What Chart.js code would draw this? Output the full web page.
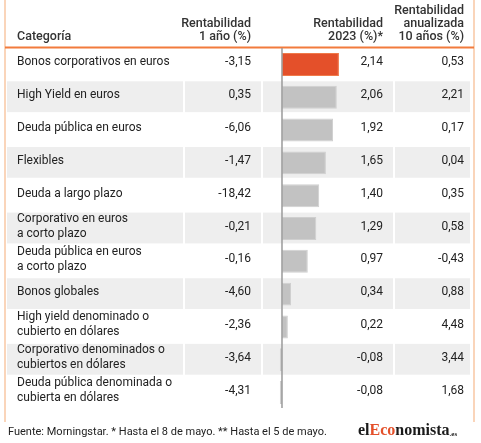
<!DOCTYPE html>
<html>
<head>
<meta charset="utf-8">
<script src="https://cdn.jsdelivr.net/npm/chart.js@4"></script>
<style>
  body { margin: 0; background: #fff; }
  #wrap { width: 481px; height: 443px; }
</style>
</head>
<body>
<div id="wrap"><canvas id="myChart" width="481" height="443"></canvas></div>
<script>
let categorias = [
  "Bonos corporativos en euros",
  "High Yield en euros",
  "Deuda pública en euros",
  "Flexibles",
  "Deuda a largo plazo",
  "Corporativo en euros|a corto plazo",
  "Deuda pública en euros|a corto plazo",
  "Bonos globales",
  "High yield denominado o|cubierto en dólares",
  "Corporativo denominados o|cubiertos en dólares",
  "Deuda pública denominada o|cubierta en dólares",
];
let rent1 = ["-3,15", "0,35", "-6,06", "-1,47", "-18,42", "-0,21", "-0,16", "-4,60", "-2,36", "-3,64", "-4,31"];
let rent2023 = [2.14, 2.06, 1.92, 1.65, 1.40, 1.29, 0.97, 0.34, 0.22, -0.08, -0.08];
let rent10 = ["0,53", "2,21", "0,17", "0,04", "0,35", "0,58", "-0,43", "0,88", "4,48", "3,44", "1,68"];
let cabeceras = [
  { text: ["Categoría"], x: 17, align: "left" },
  { text: ["Rentabilidad", "1 año (%)"], x: 251, align: "right" },
  { text: ["Rentabilidad", "2023 (%)*"], x: 383, align: "right" },
  { text: ["Rentabilidad", "anualizada", "10 años (%)"], x: 464, align: "right" },
];
let fuente = "Fuente: Morningstar. * Hasta el 8 de mayo. ** Hasta el 5 de mayo.";

let naranja = "#e4502a";
let gris = "#c2c2c2";
let franja = "#eeeeee";

function fmt(v) {
  return v.toFixed(2).replace(".", ",");
}

let tablaPlugin = {
  id: "tabla",
  beforeDatasetsDraw(chart) {
    let ctx = chart.ctx;
    let area = chart.chartArea;
    let y = chart.scales.y;
    let rowH = (area.bottom - area.top) / categorias.length;
    let cols = [[7, 183], [185, 261], [263, 393], [395, 470]];
    ctx.save();
    // franjas alternas
    categorias.forEach((c, i) => {
      if (i % 2 == 1) {
        let top = y.getPixelForValue(i) - rowH / 2;
        ctx.fillStyle = franja;
        cols.forEach((col) => {
          ctx.fillRect(col[0], top + 0.5, col[1] - col[0], rowH - 2);
        });
      }
    });
    // bordes naranjas
    ctx.strokeStyle = "#f9c8a4";
    ctx.lineWidth = 1.5;
    ctx.beginPath();
    ctx.moveTo(5, 0); ctx.lineTo(5, 422);
    ctx.moveTo(474, 0); ctx.lineTo(474, 422);
    ctx.stroke();
    ctx.strokeStyle = "#f27b3c";
    ctx.lineWidth = 2;
    ctx.beginPath();
    ctx.moveTo(5, 47.5); ctx.lineTo(474, 47.5);
    ctx.stroke();
    // cabeceras
    ctx.fillStyle = "#333";
    ctx.font = "500 12.5px Roboto";
    ctx.textBaseline = "middle";
    cabeceras.forEach((h) => {
      ctx.textAlign = h.align;
      let n = h.text.length;
      h.text.forEach((t, k) => {
        ctx.fillText(t, h.x, 37 - (n - 1 - k) * 13);
      });
    });
    // filas
    ctx.fillStyle = "#222";
    ctx.font = "12px Roboto";
    categorias.forEach((c, i) => {
      let cy = y.getPixelForValue(i) - 2;
      let lines = c.split("|");
      ctx.textAlign = "left";
      lines.forEach((t, k) => {
        ctx.fillText(t, 17, cy + (k - (lines.length - 1) / 2) * 15);
      });
      ctx.textAlign = "right";
      ctx.fillText(rent1[i], 251, cy);
      ctx.fillText(fmt(rent2023[i]), 383, cy);
      ctx.fillText(rent10[i], 464, cy);
    });
    // pie
    ctx.textAlign = "left";
    ctx.font = "11px Roboto";
    ctx.fillStyle = "#222";
    ctx.fillText(fuente, 8, 432);
    // logo
    let x = 358;
    let partes = [["el", "#1a1a1a"], ["Eco", naranja], ["nomista", "#1a1a1a"]];
    ctx.font = "bold 16px 'Liberation Serif'";
    partes.forEach((p) => {
      ctx.fillStyle = p[1];
      ctx.fillText(p[0], x, 431);
      x += ctx.measureText(p[0]).width;
    });
    ctx.fillStyle = "#1a1a1a";
    ctx.font = "bold 7px 'Liberation Serif'";
    ctx.fillText(".es", x, 434);
    ctx.restore();
  },
  afterDatasetsDraw(chart) {
    let ctx = chart.ctx;
    let area = chart.chartArea;
    let x0 = chart.scales.x.getPixelForValue(0);
    ctx.save();
    ctx.strokeStyle = "#9a9a9a";
    ctx.lineWidth = 1.5;
    ctx.beginPath();
    ctx.moveTo(x0, area.top);
    ctx.lineTo(x0, area.bottom - 1);
    ctx.stroke();
    ctx.restore();
  },
};

let myChart = document.getElementById("myChart").getContext("2d");
let tablaChart = new Chart(myChart, {
  type: "bar",
  data: {
    labels: categorias,
    datasets: [
      {
        label: "Rentabilidad 2023 (%)",
        data: rent2023,
        backgroundColor: rent2023.map((v, i) => (i == 0 ? naranja : gris)),
        borderColor: rent2023.map((v, i) => (i == 0 ? "#f07a4a" : "#cfcfcf")),
        borderWidth: 1,
        borderSkipped: false,
        barPercentage: 0.7,
        categoryPercentage: 1,
      },
    ],
  },
  options: {
    indexAxis: "y",
    responsive: false,
    animation: false,
    devicePixelRatio: 1,
    layout: { padding: { left: 263, right: 88, top: 48, bottom: 34 } },
    plugins: { legend: { display: false }, tooltip: { enabled: false } },
    scales: {
      x: { display: false, min: -0.714, max: 4.173 },
      y: { display: false },
    },
  },
  plugins: [tablaPlugin],
});
</script>
</body>
</html>
